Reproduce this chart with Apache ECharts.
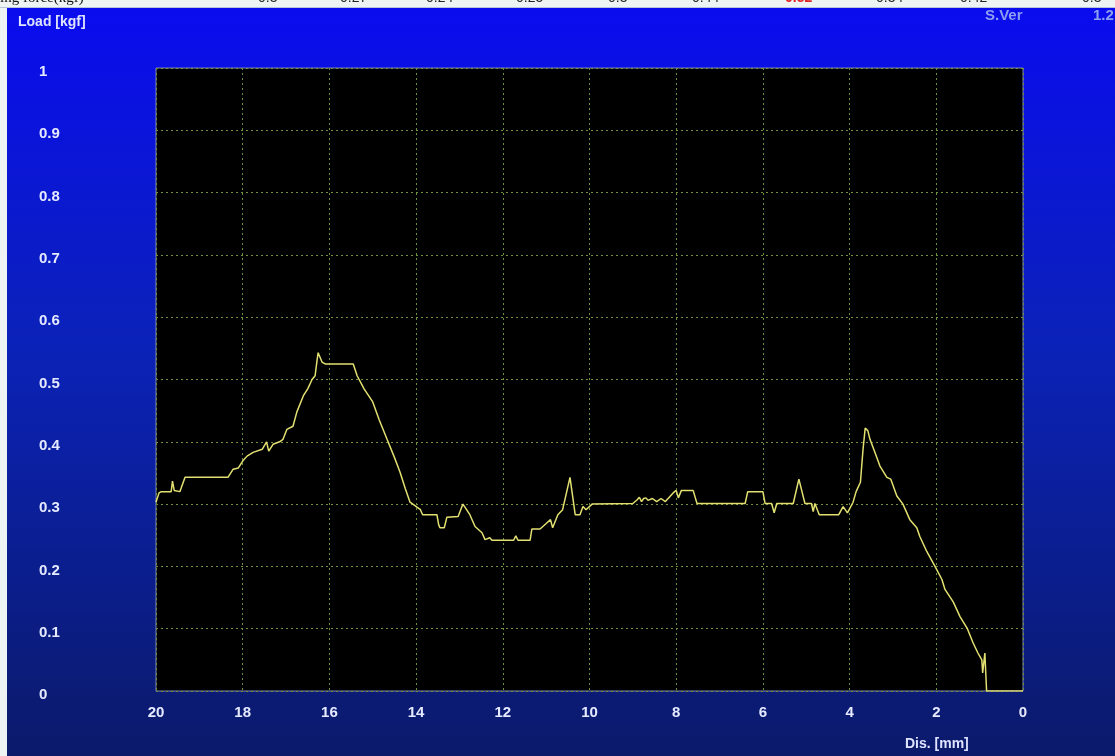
<!DOCTYPE html>
<html>
<head>
<meta charset="utf-8">
<script src="https://cdn.jsdelivr.net/npm/echarts@6/dist/echarts.min.js"></script>
<style>
html,body{margin:0;padding:0;background:#eef3f3;}
#chart{width:1115px;height:756px;}
</style>
</head>
<body>
<div id="chart"></div>
<script>
// Distance [mm] (plotted right-to-left) and Load [kgf]
const distance = [
 20.00,19.93,19.88,19.65,19.62,19.58,19.45,19.33,18.90,18.34,18.22,18.10,18.00,17.90,17.76,17.55,17.45,17.40,17.30,17.15,
 17.07,16.98,16.84,16.75,16.60,16.50,16.40,16.33,16.29,16.26,16.17,16.10,15.45,15.36,15.20,15.00,14.85,14.67,14.50,14.37,
 14.25,14.14,13.90,13.85,13.52,13.48,13.45,13.35,13.29,13.03,12.92,12.76,12.64,12.48,12.41,12.30,12.25,11.75,11.70,11.65,
 11.37,11.33,11.14,10.98,10.90,10.85,10.73,10.62,10.45,10.33,10.22,10.15,10.08,9.94,9.00,8.90,8.85,8.80,8.75,8.70,
 8.65,8.55,8.45,8.35,8.25,8.07,8.00,7.95,7.88,7.61,7.52,6.41,6.35,6.00,5.95,5.80,5.74,5.68,5.30,5.17,
 5.03,4.88,4.84,4.80,4.74,4.70,4.25,4.15,4.05,3.92,3.85,3.75,3.69,3.64,3.58,3.53,3.40,3.30,3.14,3.05,
 2.91,2.77,2.61,2.45,2.38,2.22,2.03,1.87,1.80,1.61,1.45,1.29,1.15,1.04,0.95,0.93,0.88,0.84,0.00
];
const load = [
 0.303,0.318,0.320,0.320,0.337,0.322,0.320,0.343,0.343,0.343,0.356,0.358,0.369,0.377,0.383,0.388,0.400,0.385,0.396,0.400,
 0.404,0.420,0.425,0.448,0.474,0.485,0.500,0.506,0.528,0.543,0.528,0.525,0.525,0.506,0.485,0.464,0.435,0.404,0.375,0.351,
 0.325,0.303,0.291,0.283,0.283,0.267,0.262,0.262,0.279,0.280,0.300,0.283,0.264,0.254,0.243,0.246,0.242,0.242,0.249,0.242,
 0.242,0.260,0.260,0.270,0.275,0.262,0.283,0.291,0.343,0.283,0.283,0.296,0.291,0.300,0.301,0.307,0.311,0.304,0.309,0.310,
 0.306,0.309,0.304,0.309,0.304,0.318,0.322,0.310,0.322,0.322,0.301,0.301,0.320,0.320,0.301,0.301,0.286,0.301,0.301,0.340,
 0.301,0.301,0.288,0.301,0.290,0.283,0.283,0.296,0.286,0.303,0.320,0.335,0.388,0.422,0.418,0.404,0.380,0.361,0.343,0.340,
 0.313,0.300,0.275,0.262,0.248,0.224,0.200,0.179,0.163,0.143,0.119,0.101,0.077,0.061,0.050,0.029,0.061,0.000,0.000
];
const xTicks = [0,2,4,6,8,10,12,14,16,18,20];
const yTicks = [0,0.1,0.2,0.3,0.4,0.5,0.6,0.7,0.8,0.9,1];
// header strip (cut off at top of picture)
const headerTitle = 'ing force(kgf)';
const headerValues = ['0.3','0.27','0.24','0.25','0.3','0.44','0.52','0.34','0.42','0.3'];
const headerX = [258,340,426,516,608,692,785,876,960,1082];
const headerRed = [false,false,false,false,false,false,true,false,false,false];

const points = distance.map((d, i) => [d, load[i]]);

const chart = echarts.init(document.getElementById('chart'), null, {renderer: 'canvas'});

const graphics = [
  {type:'rect', z:-100, silent:true, shape:{x:7,y:8,width:1108,height:748},
   style:{fill:{type:'linear',x:0,y:0,x2:0,y2:1,colorStops:[
     {offset:0,color:'#0a0cee'},{offset:0.45,color:'#0b22b8'},{offset:1,color:'#0b1a6a'}]}}},
  {type:'rect', z:-99, silent:true, shape:{x:0,y:7,width:1115,height:1}, style:{fill:'#b8c4d8'}},
  {type:'text', z:5, left:18, top:15, style:{text:'Load [kgf]', fill:'#dfe4ff', font:'bold 14px Arial'}},
  {type:'text', z:5, left:905, top:737, style:{text:'Dis. [mm]', fill:'#dfe4ff', font:'bold 14px Arial'}},
  {type:'text', z:5, left:985, top:8, style:{text:'S.Ver', fill:'#8e9ff0', font:'bold 15px Arial'}},
  {type:'text', z:5, left:1093, top:8, style:{text:'1.2', fill:'#8e9ff0', font:'bold 15px Arial'}},
  {type:'text', z:-98, left:0, top:-9, style:{text:headerTitle, fill:'#111', font:'15px "Liberation Serif", serif'}}
];
headerValues.forEach((v, i) => {
  graphics.push({type:'text', z:-98, left:headerX[i], top:-9,
    style:{text:v, fill: headerRed[i] ? '#e02020' : '#222', font: (headerRed[i] ? 'bold ' : '') + '14px Arial'}});
});

chart.setOption({
  backgroundColor: 'transparent',
  animation: false,
  graphic: graphics,
  grid: {left:156, right:92, top:68, bottom:65, show:true, backgroundColor:'#000000', borderColor:'#7f88b8', borderWidth:1},
  xAxis: {
    type:'value', min:0, max:20, interval:2, inverse:true, z:3,
    axisLine:{show:false}, axisTick:{show:false},
    axisLabel:{color:'#e6eaff', fontFamily:'Arial', fontWeight:'bold', fontSize:15, margin:14,
      formatter: v => xTicks.includes(v) ? String(v) : ''},
    splitLine:{show:true, lineStyle:{color:'#6a9040', type:[2,3], width:1}}
  },
  yAxis: {
    type:'value', min:0, max:1, interval:0.1, z:3,
    axisLine:{show:false}, axisTick:{show:false},
    axisLabel:{color:'#e6eaff', fontFamily:'Arial', fontWeight:'bold', fontSize:15, align:'left', margin:117,
      verticalAlign:'top', lineHeight:8,
      formatter: v => { const t = yTicks.find(k => Math.abs(k - v) < 1e-6); return t === undefined ? '' : String(t); }},
    splitLine:{show:true, lineStyle:{color:'#74903c', type:[2,3], width:1}}
  },
  series: [{
    type:'line', data: points, showSymbol:false, symbol:'none',
    lineStyle:{color:'#e2e070', width:1.5}, z:4
  }]
});
</script>
</body>
</html>
